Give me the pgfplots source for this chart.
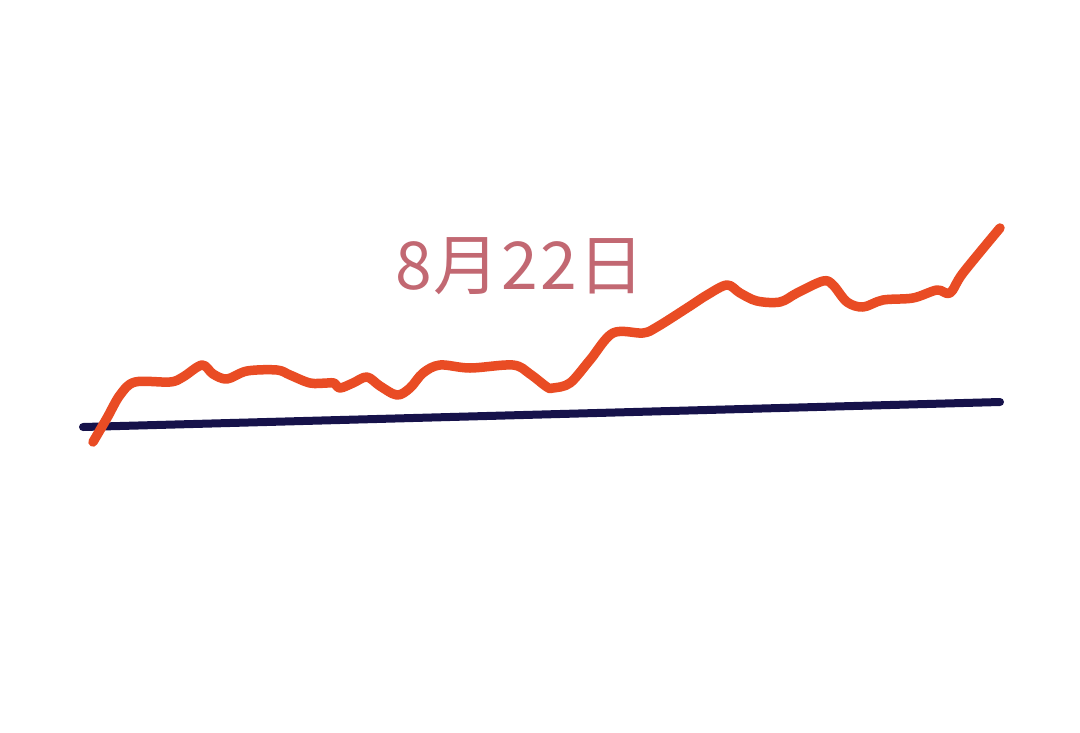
\documentclass[border=0pt]{standalone}
\usepackage{pgfplots}
\pgfplotsset{compat=1.18}
\usepackage{fontspec}
\newfontfamily\cjk[LetterSpace=3]{Noto Sans CJK SC}
\definecolor{orangeline}{RGB}{233,76,36}
\definecolor{navyline}{RGB}{22,18,74}
\definecolor{datetext}{RGB}{194,104,114}
\begin{document}
\begin{tikzpicture}
\begin{axis}[
  width=1080pt, height=732pt, scale only axis,
  xmin=0, xmax=1080, ymin=0, ymax=732,
  y dir=reverse,
  hide axis, clip=false,
]
\path[draw=none,fill=white] (axis cs:0,0) rectangle (axis cs:1080,732);
\addplot[navyline, line width=8pt, line cap=round] coordinates {(83,427) (1000,402)};
\addplot[orangeline, line width=9.5pt, line cap=round, line join=round, smooth, tension=0.55] coordinates {
(93,442) (107,418) (120,395) (135,382) (170,382) (183,377) (202,365) (213,374) (227,379)
(247,371) (277,370) (290,375) (310,383) (327,383) (334,383) (340,388) (353,383) (367,377)
(380,386) (397,395) (410,388) (423,373) (440,365) (470,368) (513,365) (530,374) (547,387)
(553,388) (570,383) (590,360) (613,333) (643,333) (657,327) (687,308) (707,295) (727,285)
(740,293) (757,301) (780,302) (797,293) (823,281) (833,285) (847,302) (863,307) (883,300)
(913,298) (937,290) (950,293) (963,273) (1000,228)};
\node[text=datetext, anchor=center, inner sep=0pt] at (axis cs:520,266) {\cjk\fontsize{66}{80}\selectfont 8月22日};
\end{axis}
\end{tikzpicture}
\end{document}
